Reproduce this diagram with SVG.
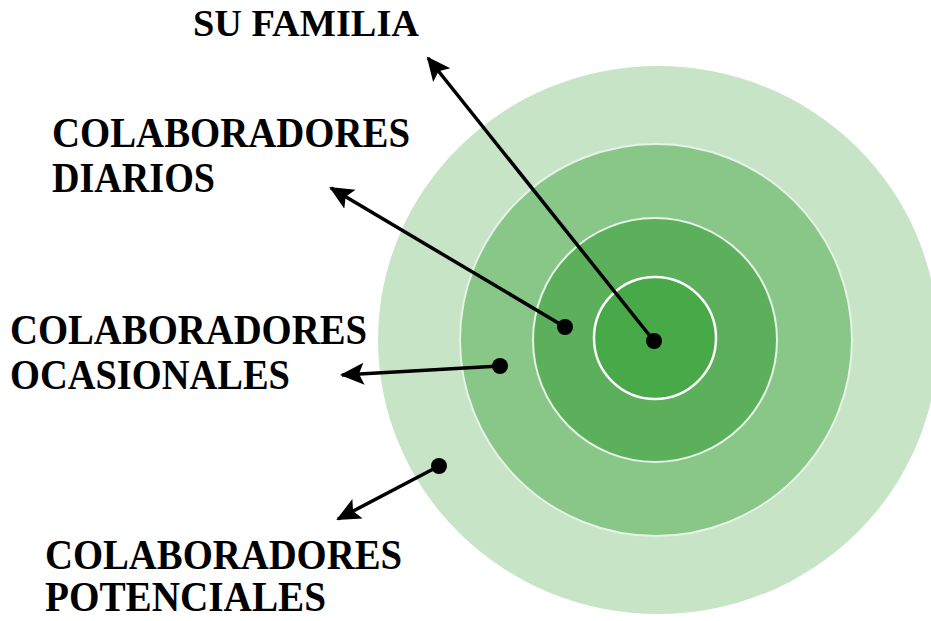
<svg xmlns="http://www.w3.org/2000/svg" width="931" height="621" viewBox="0 0 931 621">
<defs>
<style>
text{font-family:'Liberation Serif','DejaVu Serif',serif;font-weight:bold;fill:#000;}
.conn{stroke:#000;stroke-width:3.5;fill:none;}
.dot{fill:#000;}
</style>
<marker id="ah" markerUnits="userSpaceOnUse" markerWidth="26" markerHeight="26" viewBox="0 0 26 26" refX="22" refY="13" orient="auto">
<path d="M0,2 L24,13 L0,24 L5,13 Z" fill="#000"/>
</marker>
</defs>
<rect width="931" height="621" fill="#fff"/>
<g id="ring-potenciales"><ellipse cx="658" cy="340" rx="280" ry="274" fill="#C7E4C7"/></g>
<g id="ring-ocasionales"><circle cx="656" cy="340" r="196" fill="#88C788" stroke="#E6F2E6" stroke-width="2"/></g>
<g id="ring-diarios"><circle cx="655" cy="340" r="122" fill="#5CB05C" stroke="#E6F2E6" stroke-width="2"/></g>
<g id="ring-familia"><circle cx="655" cy="338" r="61" fill="#47A947" stroke="#fff" stroke-width="2.5"/></g>
<g id="connectors">
<line class="conn" x1="654" y1="341" x2="428" y2="58" marker-end="url(#ah)"/>
<circle class="dot" cx="654" cy="341" r="8"/>
<line class="conn" x1="565" y1="327" x2="331" y2="188" marker-end="url(#ah)"/>
<circle class="dot" cx="565" cy="327" r="8"/>
<line class="conn" x1="500" y1="366" x2="342" y2="375" marker-end="url(#ah)"/>
<circle class="dot" cx="500" cy="366" r="8"/>
<line class="conn" x1="439" y1="466" x2="338" y2="519" marker-end="url(#ah)"/>
<circle class="dot" cx="439" cy="466" r="8"/>
</g>
<g id="label-familia"><text x="193" y="36" font-size="38" textLength="226" lengthAdjust="spacingAndGlyphs">SU FAMILIA</text></g>
<g id="label-diarios">
<text x="52" y="147" font-size="42" textLength="358" lengthAdjust="spacingAndGlyphs">COLABORADORES</text>
<text x="52" y="192" font-size="42" textLength="163" lengthAdjust="spacingAndGlyphs">DIARIOS</text>
</g>
<g id="label-ocasionales">
<text x="10" y="344" font-size="42" textLength="357" lengthAdjust="spacingAndGlyphs">COLABORADORES</text>
<text x="10" y="389" font-size="42" textLength="280" lengthAdjust="spacingAndGlyphs">OCASIONALES</text>
</g>
<g id="label-potenciales">
<text x="45" y="569" font-size="42" textLength="357" lengthAdjust="spacingAndGlyphs">COLABORADORES</text>
<text x="45" y="611" font-size="42" textLength="281" lengthAdjust="spacingAndGlyphs">POTENCIALES</text>
</g>
</svg>
